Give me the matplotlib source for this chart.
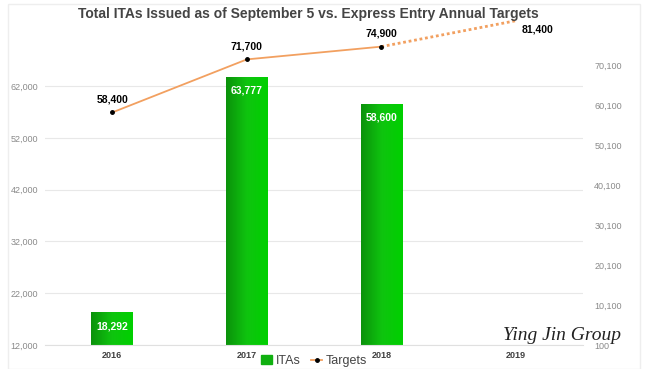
import numpy as np
import matplotlib.pyplot as plt
from matplotlib.patches import Patch, Rectangle
from matplotlib.lines import Line2D
from matplotlib.colors import LinearSegmentedColormap

plt.rcParams["font.family"] = ["Liberation Sans", "DejaVu Sans"]

# Data
years = ["2016", "2017", "2018", "2019"]
itas = [18292, 63777, 58600]           # ITAs issued (left axis)
targets = [58400, 71700, 74900, 81400]  # Express Entry targets (right axis)

left_ticks = [12000, 22000, 32000, 42000, 52000, 62000]
right_ticks = [100, 10100, 20100, 30100, 40100, 50100, 60100, 70100]

orange = "#f2a060"
grey_txt = "#8a8a8a"

fig = plt.figure(figsize=(6.48, 3.69), dpi=100)
ax = fig.add_axes([0.0694, 0.065, 0.8306, 0.867])
ax2 = ax.twinx()

x = np.arange(len(years))

# gradient bars
bars = ax.bar(x[:len(itas)], itas, width=0.31, color="none", zorder=2)
green = LinearSegmentedColormap.from_list("g", ["#0b920b", "#0fc40f", "#00d000"])
grad = np.linspace(0, 1, 64).reshape(1, -1)
for b in bars:
    x0, w, h = b.get_x(), b.get_width(), b.get_height()
    im = ax.imshow(grad, cmap=green, extent=[x0, x0 + w, 12000, h],
                   aspect="auto", zorder=2)
    im.set_clip_path(Rectangle((x0, 12000), w, h - 12000, transform=ax.transData))
ax.set_xlim(-0.5, 3.5)
ax.set_ylim(12000, 73776)
ax2.set_ylim(100, 80300)

for xi, v in zip(x, itas):
    ax.text(xi, v - 1700, f"{v:,}", ha="center", va="top", color="white",
            fontsize=7.5, fontweight="bold", zorder=3)

# targets line
ax2.plot(x[:3], targets[:3], color=orange, lw=1.3, zorder=3)
ax2.plot(x[2:], targets[2:], color=orange, lw=2, ls=(0, (1, 1)), zorder=3,
         clip_on=False)
ax2.plot(x[:3], targets[:3], "o", color="black", ms=2.5, zorder=4)
for xi, v in zip(x[:3], targets[:3]):
    ax2.text(xi, v + 2000, f"{v:,}", ha="center", va="bottom", color="black",
             fontsize=7.5, fontweight="bold")
ax2.text(x[3] + 0.04, targets[3] - 1000, f"{targets[3]:,}", ha="left", va="top",
         color="black", fontsize=7.5, fontweight="bold")

# axes styling
ax.set_yticks(left_ticks)
ax.set_yticklabels([f"{t:,}" for t in left_ticks])
ax2.set_yticks(right_ticks)
ax2.set_yticklabels([f"{t:,}" for t in right_ticks])
ax.set_xticks(x)
ax.set_xticklabels(years, fontweight="bold", fontsize=6.5, color="#404040")
ax.tick_params(axis="x", length=0, pad=4)
ax.tick_params(axis="y", length=0, labelsize=6.5, labelcolor=grey_txt, pad=5)
ax2.tick_params(axis="y", length=0, labelsize=6.5, labelcolor=grey_txt, pad=8)
ax.grid(axis="y", color="#e8e8e8", lw=0.8, zorder=0)
ax.set_axisbelow(True)
for a in (ax, ax2):
    for s in a.spines.values():
        s.set_visible(False)
ax.spines["bottom"].set_visible(True)
ax.spines["bottom"].set_color("#e0e0e0")

fig.text(0.476, 0.962, "Total ITAs Issued as of September 5 vs. Express Entry Annual Targets",
         ha="center", va="center", fontsize=10, fontweight="bold", color="#444444")

handles = [Patch(color="#10b010"),
           Line2D([], [], color=orange, lw=1.3, marker="o", ms=2.5,
                  markerfacecolor="black", markeredgecolor="black")]
fig.legend(handles, ["ITAs", "Targets"], loc="lower center", bbox_to_anchor=(0.485, -0.025),
           ncol=2, frameon=False, fontsize=9, handlelength=0.9, handletextpad=0.3,
           columnspacing=0.8, labelcolor="#444444")

# faint chart border
fig.patches.append(Rectangle((0.012, 0.0), 0.975, 0.99, transform=fig.transFigure,
                             fill=False, ec="#eeeeee", lw=1))

# watermark
fig.text(0.868, 0.09, "Ying Jin Group", ha="center", va="center", fontsize=14,
         family=["Liberation Serif", "DejaVu Serif"], style="italic", color="#222222")

fig.savefig("out.png", dpi=100)
